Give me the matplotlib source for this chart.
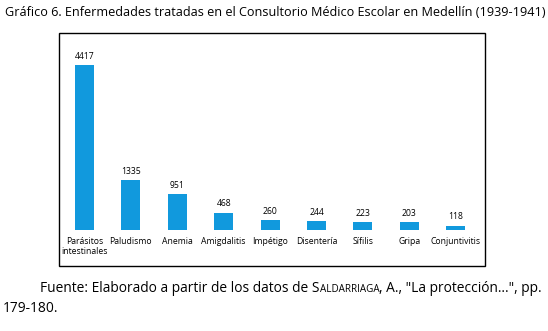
import matplotlib
matplotlib.use("Agg")
import matplotlib.pyplot as plt
from matplotlib.patches import Rectangle
from matplotlib import font_manager

categories = ["Parásitos\nintestinales", "Paludismo", "Anemia", "Amigdalitis", "Impétigo",
              "Disentería", "Sífilis", "Gripa", "Conjuntivitis"]
values = [4417, 1335, 951, 468, 260, 244, 223, 203, 118]
title = "Gráfico 6. Enfermedades tratadas en el Consultorio Médico Escolar en Medellín (1939-1941)"

names = {f.name for f in font_manager.fontManager.ttflist}
TFONT = "Liberation Sans Narrow" if "Liberation Sans Narrow" in names else "Open Sans"
print(TFONT, sorted(n for n in names if "Narrow" in n or "Condensed" in n))

W, H = 548, 331
fig = plt.figure(figsize=(W / 100, H / 100), dpi=100)
FONT = "Open Sans"

def px(x, y):
    return x / W, 1 - y / H

# frame box
bx0, by0, bx1, by1 = 59, 33, 485, 266
fig.patches.append(Rectangle(px(bx0, by1), (bx1 - bx0) / W, (by1 - by0) / H,
                             transform=fig.transFigure, fill=False, lw=1.0, ec="black"))

ax_l, ax_r, ax_b, ax_t = 61.3, 479.0, 230, 45
ax = fig.add_axes([ax_l / W, 1 - ax_b / H, (ax_r - ax_l) / W, (ax_b - ax_t) / H])
ymax = values[0] * (ax_b - ax_t) / (230 - 65)
x = range(len(values))
ax.bar(x, values, width=0.41, color="#1199DD")
ax.set_xlim(-0.5, len(values) - 0.5)
ax.set_ylim(0, ymax)
ax.axis("off")
for xi, v in zip(x, values):
    ax.annotate(str(v), (xi, v), xytext=(0, 3), textcoords="offset points",
                ha="center", va="bottom", fontsize=6.2, family=FONT)
for xi, c in zip(x, categories):
    ax.annotate(c, (xi, 0), xytext=(0, -5), textcoords="offset points",
                ha="center", va="top", fontsize=6.2, family=FONT, linespacing=1.15)

t = fig.text(*px(5, 13), title, fontsize=10, family=TFONT, va="center", ha="left")
fig.canvas.draw()
r = fig.canvas.get_renderer()
bb = t.get_window_extent(r)
t.set_fontsize(10 * (538 / bb.width))

fs = 10
parts = [("Fuente: Elaborado a partir de los datos de S", fs),
         ("ALDARRIAGA", fs * 0.72),
         (", A., \"La protección…\", pp.", fs)]
objs = []
xc = 40
for s, f in parts:
    o = fig.text(*px(xc, 292), s, fontsize=f, family=TFONT, va="baseline", ha="left")
    fig.canvas.draw()
    objs.append((o, f))
    xc += o.get_window_extent(r).width
scale = (543 - 40) / (xc - 40)
xc = 40
for o, f in objs:
    o.set_fontsize(f * scale)
    o.set_position(px(xc, 292))
    fig.canvas.draw()
    xc += o.get_window_extent(r).width
fig.text(*px(3, 312), "179-180.", fontsize=fs * scale, family=TFONT, va="baseline", ha="left")

fig.savefig("out.png", dpi=100)
